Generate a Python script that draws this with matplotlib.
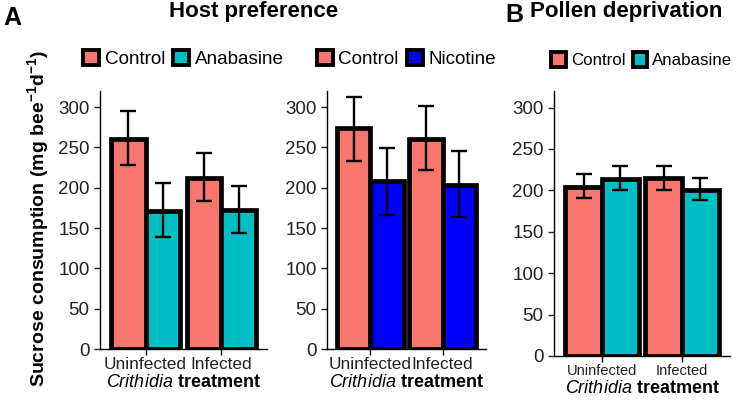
import matplotlib
matplotlib.use('Agg')
import matplotlib.pyplot as plt
from matplotlib.patches import Patch
import numpy as np

plt.rcParams['font.family'] = ['Liberation Sans', 'DejaVu Sans']
plt.rcParams['mathtext.fontset'] = 'custom'
plt.rcParams['mathtext.rm'] = 'Liberation Sans'
plt.rcParams['mathtext.it'] = 'Liberation Sans:italic'
plt.rcParams['mathtext.bf'] = 'Liberation Sans:bold'
plt.rcParams['mathtext.default'] = 'regular'

# data
infection = ['Uninfected', 'Infected']

# A, anabasine
anab_ctrl = [261, 212]
anab_ctrl_lo = [228, 183]
anab_ctrl_hi = [295, 243]
anab_trt = [171, 172]
anab_trt_lo = [139, 144]
anab_trt_hi = [206, 202]

# A, nicotine
nic_ctrl = [274, 261]
nic_ctrl_lo = [233, 222]
nic_ctrl_hi = [313, 301]
nic_trt = [208, 204]
nic_trt_lo = [166, 164]
nic_trt_hi = [249, 245]

# B, pollen deprivation
pol_ctrl = [204, 215]
pol_ctrl_lo = [191, 201]
pol_ctrl_hi = [220, 230]
pol_trt = [214, 201]
pol_trt_lo = [201, 188]
pol_trt_hi = [229, 215]

salmon = '#F8766D'
teal = '#00BFC4'
blue = '#0000FF'

fig = plt.figure(figsize=(7.36, 4.0), dpi=100)
ax1 = fig.add_axes([100/736, 1-349/400, 167/736, 258/400])
ax2 = fig.add_axes([327/736, 1-349/400, 159/736, 258/400])
ax3 = fig.add_axes([554/736, 1-356/400, 176/736, 265/400])

def panel(ax, c, clo, chi, t, tlo, thi, tcol, tname, tick_fs, leg_fs):
    x = np.arange(1, len(infection) + 1)
    w = 0.46
    for xs, vals, lo, hi, col in [(x - w/2, c, clo, chi, salmon), (x + w/2, t, tlo, thi, tcol)]:
        ax.bar(xs, vals, width=w, color=col, edgecolor='black', linewidth=3.4, zorder=2)
        vals = np.array(vals)
        ax.errorbar(xs, vals, yerr=[vals - np.array(lo), np.array(hi) - vals],
                    fmt='none', ecolor='black', elinewidth=1.7, capsize=5.5, capthick=1.7, zorder=3)
    ax.set_xlim(0.4, 2.6)
    ax.set_ylim(0, 320)
    ax.set_xticks(x)
    ax.set_xticklabels(infection, fontsize=tick_fs, color='#222222')
    ax.set_yticks(range(0, 301, 50))
    ax.tick_params(axis='y', labelsize=13.5, colors='#222222', length=4, width=1)
    ax.tick_params(axis='x', length=4, width=1, pad=2)
    for s in ['top', 'right']:
        ax.spines[s].set_visible(False)
    ax.spines['left'].set_linewidth(1)
    ax.spines['bottom'].set_linewidth(1)
    handles = [Patch(facecolor=salmon, edgecolor='black', linewidth=2.8),
               Patch(facecolor=tcol, edgecolor='black', linewidth=2.8)]
    ax.legend(handles, ['Control', tname], ncol=2, loc='lower center',
              bbox_to_anchor=(0.5, 1.06), frameon=False, fontsize=leg_fs,
              handlelength=0.85, handleheight=0.9, handletextpad=0.3,
              columnspacing=0.45, borderaxespad=0)
    ax.set_xlabel(r'$\mathit{Crithidia}\ \mathbf{treatment}$', fontsize=13, labelpad=1)

panel(ax1, anab_ctrl, anab_ctrl_lo, anab_ctrl_hi, anab_trt, anab_trt_lo, anab_trt_hi,
      teal, 'Anabasine', 12.4, 13.6)
panel(ax2, nic_ctrl, nic_ctrl_lo, nic_ctrl_hi, nic_trt, nic_trt_lo, nic_trt_hi,
      blue, 'Nicotine', 12.4, 13.6)
panel(ax3, pol_ctrl, pol_ctrl_lo, pol_ctrl_hi, pol_trt, pol_trt_lo, pol_trt_hi,
      teal, 'Anabasine', 10.5, 12.2)

fig.text(38/736, 1-219/400, 'Sucrose consumption (mg bee$^{-1}$d$^{-1}$)',
         rotation=90, ha='center', va='center', fontsize=14, fontweight='bold')

fig.text(3/736, 1-18/400, 'A', fontsize=18, fontweight='bold', ha='left', va='center')
fig.text(254/736, 1-12/400, 'Host preference', fontsize=16, fontweight='bold', ha='center', va='center')
fig.text(505/736, 1-15/400, 'B', fontsize=18, fontweight='bold', ha='left', va='center')
fig.text(626/736, 1-12/400, 'Pollen deprivation', fontsize=16, fontweight='bold', ha='center', va='center')

fig.savefig('out.png', dpi=100)
